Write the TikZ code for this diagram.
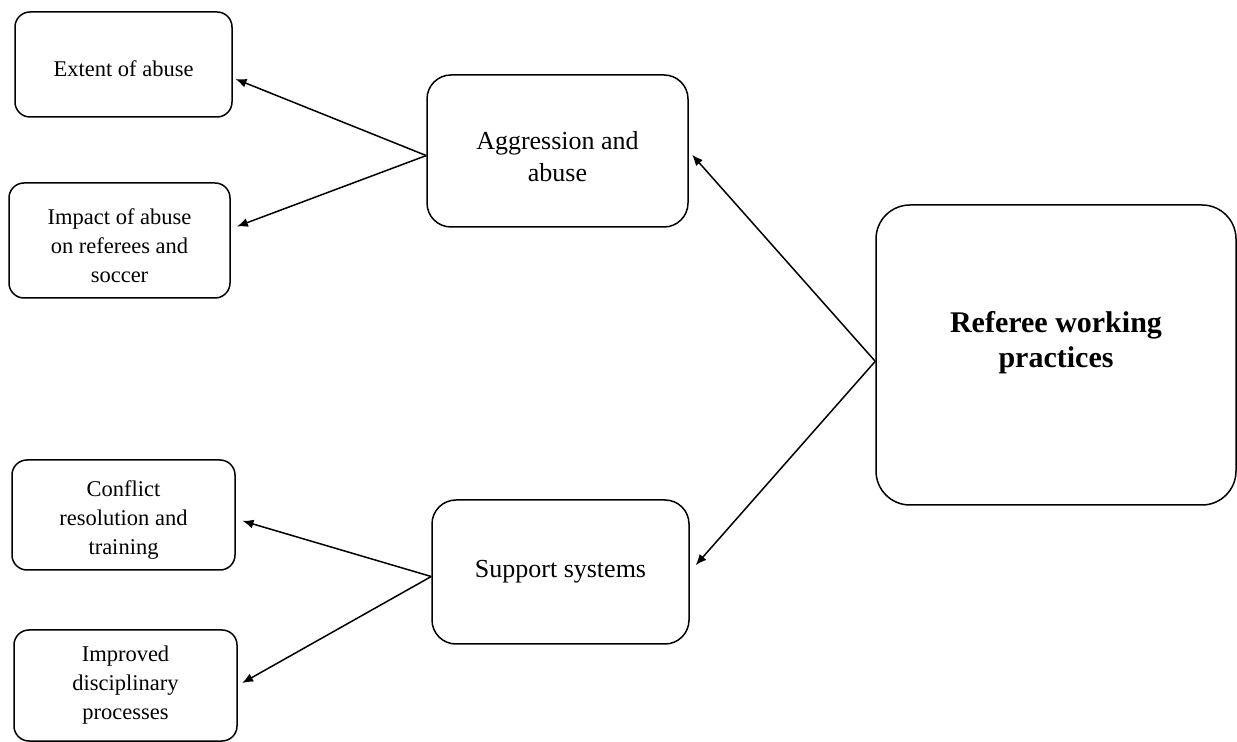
\documentclass[tikz,border=0pt]{standalone}
\usepackage{fontspec}
\setmainfont{Liberation Serif}
\usepackage{tikz}
\usetikzlibrary{arrows.meta}

\begin{document}
\begin{tikzpicture}[x=0.5pt,y=-0.5pt,
  box/.style={draw, line width=0.75pt, inner sep=0pt, align=center},
  leaf/.style={box, rounded corners=7.5pt, font=\fontsize{11.25}{14.5}\selectfont},
  theme/.style={box, rounded corners=12pt, font=\fontsize{13}{16}\selectfont},
  main/.style={box, rounded corners=17pt, font=\bfseries\fontsize{15}{17.5}\selectfont},
  link/.style={line width=0.75pt, -{Latex[length=5.5pt,width=4.5pt]}}]
\useasboundingbox (0,0) rectangle (1237,742);
% central box
\node[main, minimum width=180pt, minimum height=150pt, text depth=16pt] (referee) at (1056,355) {Referee working\\practices};
% themes
\node[theme, minimum width=130.5pt, minimum height=76pt, text height=31pt] (aggr) at (557.5,151) {Aggression and\\abuse};
\node[theme, minimum width=128.5pt, minimum height=72pt] (support) at (560.5,572) {Support systems};
% sub-themes
\node[leaf, minimum width=108.5pt, minimum height=52.5pt, text height=12.5pt] (extent) at (123.5,64.5) {Extent of abuse};
\node[leaf, minimum width=110.5pt, minimum height=57.5pt, text height=42.5pt] (impact) at (119.5,240.5) {Impact of abuse\\on referees and\\soccer};
\node[leaf, minimum width=111.5pt, minimum height=55pt, text height=41.5pt] (conflict) at (123.5,515) {Conflict\\resolution and\\training};
\node[leaf, minimum width=111.5pt, minimum height=55.5pt] (improved) at (125.5,685.5) {Improved\\disciplinary\\processes};
% arrows
\draw[link, shorten >=2.5pt] (referee.182) -- (aggr.east);
\draw[link, shorten >=4.5pt] (referee.182) -- (support.east);
\draw[link, shorten >=1.5pt] (aggr.182) -- (extent.-7);
\draw[link, shorten >=3.3pt] (aggr.182) -- (impact.6);
\draw[link, shorten >=3.5pt] (support.182) -- (conflict.-2);
\draw[link, shorten >=2.5pt] (support.182) -- (improved.east);
\end{tikzpicture}
\end{document}
